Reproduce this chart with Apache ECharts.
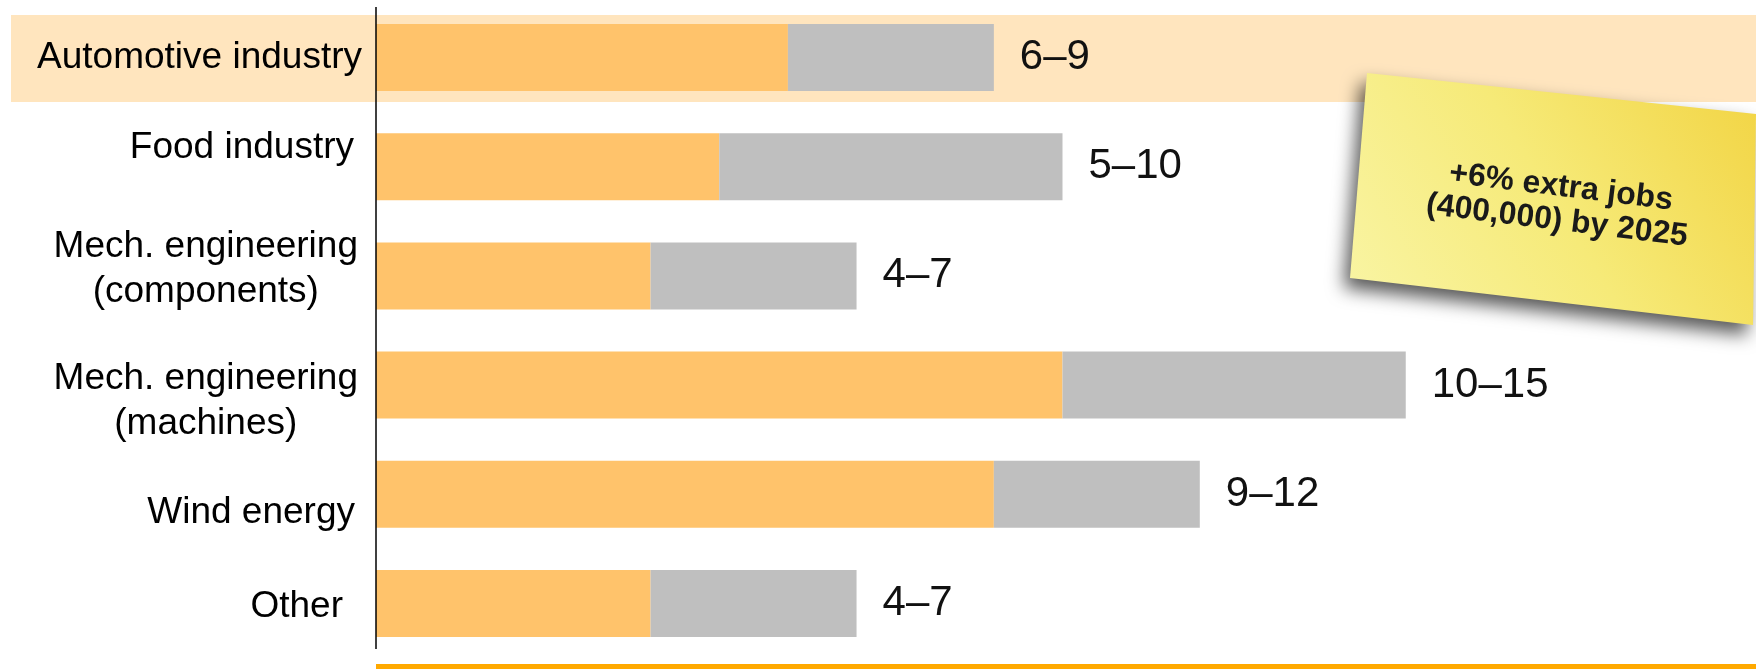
<!DOCTYPE html>
<html>
<head>
<meta charset="utf-8">
<script src="https://cdn.jsdelivr.net/npm/echarts@6/dist/echarts.min.js"></script>
<style>
  html, body { margin: 0; padding: 0; background: #ffffff; }
  #chart { width: 1756px; height: 669px; }
</style>
</head>
<body>
<div id="chart"></div>
<script>
// ---- Data ----
const categories = [
  'Automotive industry',
  'Food industry',
  'Mech. engineering\n(components)',
  'Mech. engineering\n(machines)',
  'Wind energy',
  'Other'
];
const lowValues  = [6, 5, 4, 10, 9, 4];
const highValues = [9, 10, 7, 15, 12, 7];
const noteText = '+6% extra jobs\n(400,000) by 2025';

// ---- Styling helpers (cosmetic only) ----
const FONT = '"Liberation Sans", Arial, Helvetica, sans-serif';
const labelNudgeY = [0, -19, -7, 16, 19, 3];   // px, + = down
const labelPadRight = [1, 9, 5, 5, 8, 20];     // px extra gap before axis

const rangeValues = highValues.map((h, i) => h - lowValues[i]);

function fmtLabel(value, index) {
  const lines = String(value).split('\n').map(l => '{t|' + l + '}{w' + index + '| }');
  const n = labelNudgeY[index] || 0;
  let s = lines.join('\n');
  if (n < 0) s = s + '\n{s' + index + '| }';
  else if (n > 0) s = '{s' + index + '| }\n' + s;
  return s;
}
const rich = {
  t: { fontSize: 37, fontFamily: FONT, color: '#000', lineHeight: 45, align: 'center' }
};
labelNudgeY.forEach((n, i) => {
  rich['s' + i] = { fontSize: 1, lineHeight: Math.max(1, Math.abs(n) * 2) };
  rich['w' + i] = { fontSize: 1, width: labelPadRight[i], align: 'right', lineHeight: 1 };
});

const chart = echarts.init(document.getElementById('chart'), null, { renderer: 'canvas' });

const option = {
  backgroundColor: '#ffffff',
  animation: false,
  grid: { left: 376, right: 7, top: 3, bottom: 11, containLabel: false },
  xAxis: {
    type: 'value', min: 0, max: 20, show: false,
    splitLine: { show: false }
  },
  yAxis: {
    type: 'category', inverse: true, data: categories,
    axisLine: { show: false }, axisTick: { show: false },
    axisLabel: {
      margin: 13,
      formatter: fmtLabel,
      rich: rich,
      fontFamily: FONT, fontSize: 37, color: '#000'
    }
  },
  series: [
    {
      type: 'bar', stack: 'total', barWidth: 67,
      data: lowValues,
      itemStyle: { color: '#FFC36B' },
      z: 2
    },
    {
      type: 'bar', stack: 'total', barWidth: 67,
      data: rangeValues,
      itemStyle: { color: '#BFBFBF' },
      label: {
        show: true, position: 'right', distance: 26,
        fontFamily: FONT, fontSize: 42, color: '#111',
        formatter: p => lowValues[p.dataIndex] + '\u2013' + highValues[p.dataIndex]
      },
      z: 2
    }
  ],
  graphic: {
    elements: [
      {
        type: 'rect', z: -1, silent: true,
        shape: { x: 11, y: 15, width: 1745, height: 87 },
        style: { fill: '#FFE5BE' }
      },
      {
        type: 'line', z: 5, silent: true,
        shape: { x1: 376, y1: 7, x2: 376, y2: 649 },
        style: { stroke: '#000', lineWidth: 1.5 }
      },
      {
        type: 'rect', z: 5, silent: true,
        shape: { x: 376, y: 664, width: 1380, height: 5 },
        style: { fill: '#FFA900' }
      },
      {
        type: 'polygon', z: 20, silent: true,
        shape: { points: [[1367, 73], [1756, 114], [1753, 325], [1350, 278]] },
        style: {
          fill: {
            type: 'linear', x: 0, y: 1, x2: 1, y2: 0, global: false,
            colorStops: [
              { offset: 0, color: '#F9F5A6' },
              { offset: 0.5, color: '#F6EA78' },
              { offset: 1, color: '#F2D443' }
            ]
          },
          shadowBlur: 18, shadowColor: 'rgba(0,0,0,0.65)',
          shadowOffsetX: -6, shadowOffsetY: 10
        }
      },
      {
        type: 'text', z: 21, silent: true,
        x: 1559, y: 204, rotation: -7 * Math.PI / 180,
        style: {
          text: noteText,
          fontSize: 32, fontWeight: 'bold', fontFamily: FONT,
          fill: '#1a1a1a', align: 'center', verticalAlign: 'middle',
          lineHeight: 34
        }
      }
    ]
  }
};
chart.setOption(option);
</script>
</body>
</html>
